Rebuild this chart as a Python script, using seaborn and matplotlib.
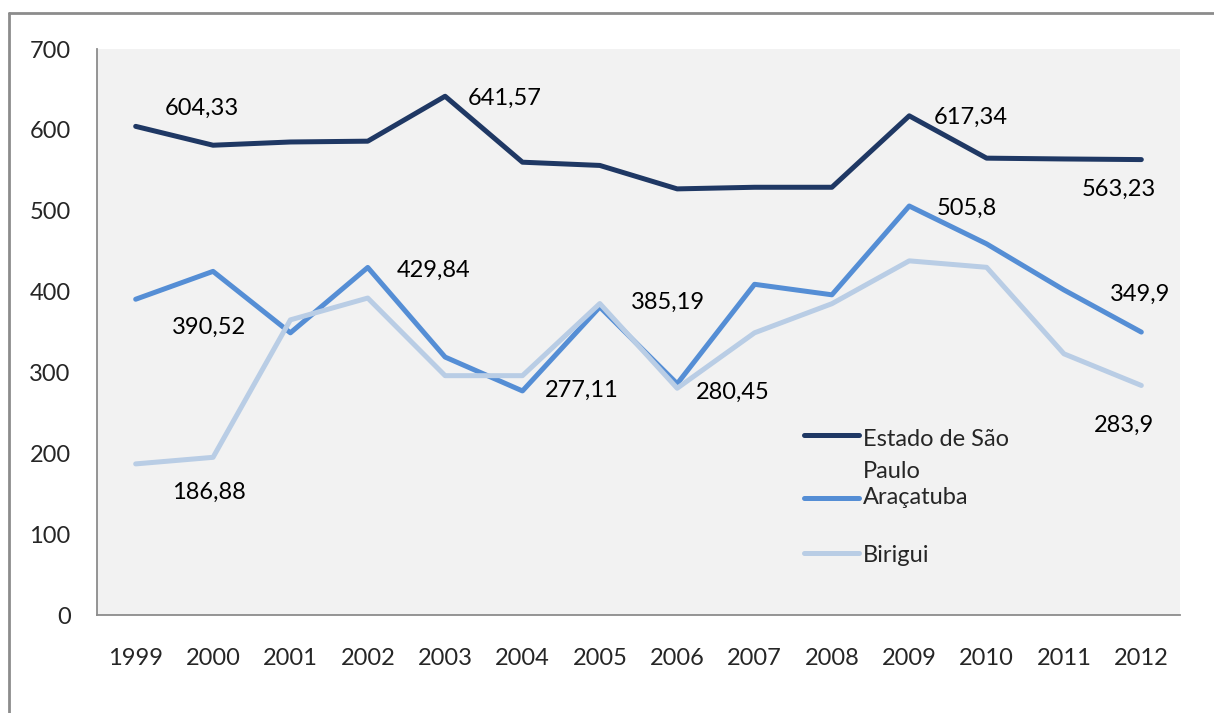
import numpy as np
import pandas as pd
import seaborn as sns
import matplotlib.pyplot as plt
from matplotlib.lines import Line2D
from matplotlib.legend_handler import HandlerLine2D

# data
years = [str(y) for y in range(1999, 2013)]
estado_sp = [604.33, 581, 585, 586, 641.57, 560, 556, 527, 529, 529, 617.34, 565, 564, 563.23]
aracatuba = [390.52, 425, 349, 429.84, 319, 277.11, 381, 286, 409, 396, 505.8, 459, 402, 349.9]
birigui = [186.88, 195, 365, 392, 296, 296, 385.19, 280.45, 349, 385, 438, 430, 323, 283.9]
series_names = ["Estado de São\nPaulo", "Araçatuba", "Birigui"]
colors = ["#1F3864", "#558ED5", "#B9CDE5"]

# labelled points: (series index, year index, text, pixel offset)
labels = [
    (0, 0, "604,33", (66, 18)),
    (0, 4, "641,57", (60, -2)),
    (0, 10, "617,34", (62, -2)),
    (0, 13, "563,23", (-23, -30)),
    (1, 0, "390,52", (73, -28)),
    (1, 3, "429,84", (66, -3)),
    (1, 5, "277,11", (59, 1)),
    (1, 10, "505,8", (58, -2)),
    (1, 13, "349,9", (-1, 38)),
    (2, 0, "186,88", (73, -28)),
    (2, 6, "385,19", (68, 1)),
    (2, 7, "280,45", (56, -4)),
    (2, 13, "283,9", (-17, -40)),
]

df = pd.DataFrame({"ano": years * 3,
                   "valor": estado_sp + aracatuba + birigui,
                   "serie": np.repeat(series_names, len(years))})

sns.set_style("white")
plt.rcParams["font.family"] = ["Lato", "DejaVu Sans"]
fs = 17


# legend handle sitting on the first line of a two-line label
class TopLine(HandlerLine2D):
    def __init__(self, shift, **kw):
        super().__init__(**kw)
        self.shift = shift

    def create_artists(self, legend, orig_handle, xdescent, ydescent, width, height, fontsize, trans):
        arts = super().create_artists(legend, orig_handle, xdescent, ydescent, width, height, fontsize, trans)
        for a in arts:
            a.set_ydata(np.asarray(a.get_ydata()) + self.shift)
        return arts


fig = plt.figure(figsize=(12.14, 7.13), dpi=100)
ax = fig.add_axes([97 / 1214, 98 / 713, 1083 / 1214, 566 / 713])
ax.set_facecolor("#F2F2F2")

sns.lineplot(data=df, x="ano", y="valor", hue="serie", palette=colors,
             linewidth=3.6, sort=False, ax=ax, legend=False)

allvals = [estado_sp, aracatuba, birigui]
for si, yi, txt, off in labels:
    ax.annotate(txt, (yi, allvals[si][yi]), xytext=off, textcoords="offset pixels",
                ha="center", va="center", fontsize=fs, color="black")

ax.set_xlim(-0.5, len(years) - 0.5)
ax.set_ylim(0, 700)
ax.set_yticks(range(0, 701, 100))
ax.set_xticks(np.arange(-0.5, len(years), 1), minor=False)
ax.set_xticklabels([])
ax.set_xticks(range(len(years)), minor=True)
ax.set_xticklabels(years, minor=True)
ax.tick_params(axis="x", which="major", length=7, width=1.3, color="#8C8C8C", direction="out")
ax.tick_params(axis="x", which="minor", length=0, pad=24, labelsize=fs)
ax.tick_params(axis="y", length=7, width=1.3, color="#8C8C8C", direction="out", labelsize=fs, pad=12)
ax.set_xlabel("")
ax.set_ylabel("")
for side in ["top", "right"]:
    ax.spines[side].set_visible(False)
for side in ["left", "bottom"]:
    ax.spines[side].set_color("#8C8C8C")
    ax.spines[side].set_linewidth(1.3)

handles = [Line2D([], [], color=c, linewidth=3.6) for c in colors]
leg_labels = ["Estado de São\nPaulo", "Araçatuba\n ", "Birigui"]
leg = ax.legend(handles, leg_labels, loc="upper left", bbox_to_anchor=(0.633, 0.366),
                frameon=False, fontsize=fs, handlelength=2.35, handletextpad=0.15,
                labelspacing=0.2,
                handler_map={handles[0]: TopLine(15), handles[1]: TopLine(11)})
for t in leg.get_texts():
    t.set_linespacing(1.65)

# outer chart border (top and left only visible)
fig.add_artist(Line2D([9 / 1214, 1], [1 - 13 / 713, 1 - 13 / 713], color="#8C8C8C", linewidth=2))
fig.add_artist(Line2D([9 / 1214, 9 / 1214], [0, 1 - 13 / 713], color="#8C8C8C", linewidth=2))

fig.savefig("out.png", dpi=100)
